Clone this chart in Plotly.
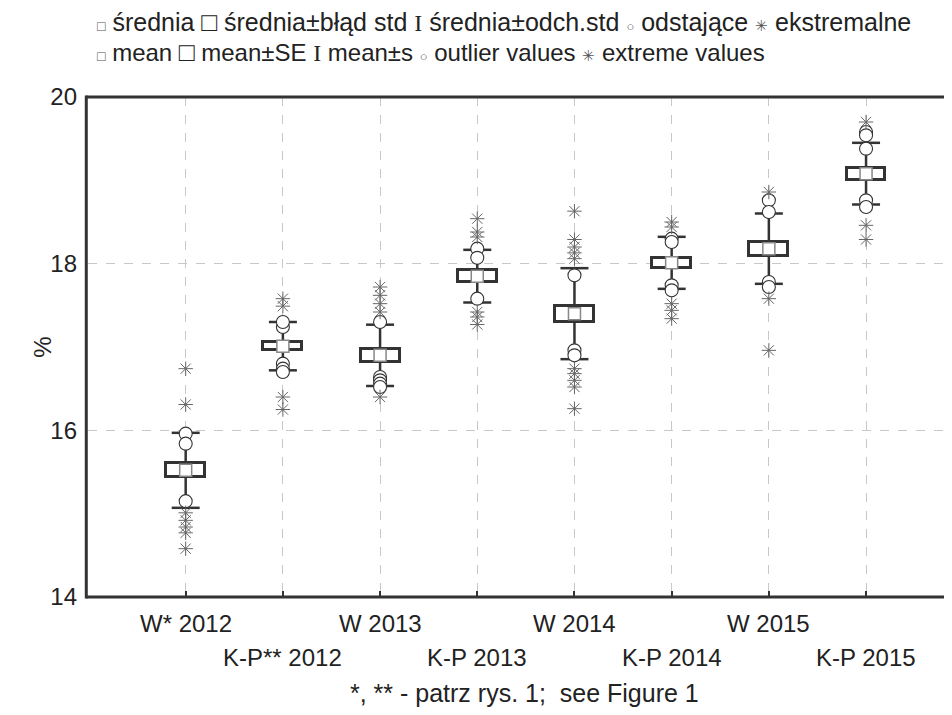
import plotly.graph_objects as go

categories = ["W* 2012", "K-P** 2012", "W 2013", "K-P 2013", "W 2014", "K-P 2014", "W 2015", "K-P 2015"]
means = [15.52, 17.01, 16.90, 17.85, 17.40, 18.01, 18.18, 19.08]
se = [0.085, 0.046, 0.074, 0.074, 0.096, 0.056, 0.084, 0.070]
sd = [0.45, 0.29, 0.368, 0.316, 0.546, 0.312, 0.422, 0.37]
outliers = [
    [15.96, 15.84, 15.15],
    [17.24, 17.30, 16.80, 16.74, 16.70],
    [17.30, 16.64, 16.60, 16.56, 16.52],
    [18.18, 18.07, 17.58],
    [17.86, 16.96, 16.90],
    [18.30, 18.26, 17.74, 17.68],
    [18.76, 18.62, 17.78, 17.72],
    [19.58, 19.54, 19.38, 18.76, 18.68],
]
extremes = [
    [16.74, 16.31, 15.01, 14.92, 14.84, 14.77, 14.58],
    [17.58, 17.49, 16.40, 16.25],
    [17.72, 17.62, 17.52, 17.42, 16.40],
    [18.54, 18.38, 18.32, 17.42, 17.36, 17.27],
    [18.63, 18.29, 18.20, 18.13, 18.06, 16.74, 16.68, 16.60, 16.52, 16.26],
    [18.50, 18.44, 17.52, 17.44, 17.34],
    [18.86, 17.58, 16.96],
    [19.70, 18.46, 18.29],
]
y_ticks = [14, 16, 18, 20]
x_title = "*, ** - patrz rys. 1;  see Figure 1"
y_title = "%"
legend_pl = ["średnia", "średnia±błąd std", "średnia±odch.std", "odstające", "ekstremalne"]
legend_en = ["mean", "mean±SE", "mean±s", "outlier values", "extreme values"]

FONT = "Arial, Liberation Sans, sans-serif"
FS = 24
DARK = "#333333"
TXT = "#222222"
xs = list(range(len(categories)))

fig = go.Figure()

# SE boxes
fig.add_trace(go.Bar(
    x=xs, y=[2 * s for s in se], base=[m - s for m, s in zip(means, se)],
    width=0.40, marker=dict(color="white", line=dict(color=DARK, width=3)),
    showlegend=False, hoverinfo="skip"))

# whiskers
wx, wy = [], []
for i, (m, s, d) in enumerate(zip(means, se, sd)):
    wx += [i, i, None, i, i, None]
    wy += [m + s, m + d, None, m - s, m - d, None]
fig.add_trace(go.Scatter(x=wx, y=wy, mode="lines", line=dict(color=DARK, width=2.5),
                         showlegend=False, hoverinfo="skip"))

# caps
cx, cy = [], []
for i, (m, d) in enumerate(zip(means, sd)):
    cx += [i, i]
    cy += [m + d, m - d]
fig.add_trace(go.Scatter(x=cx, y=cy, mode="markers",
                         marker=dict(symbol="line-ew", size=20, color=DARK,
                                     line=dict(color=DARK, width=2.5)),
                         showlegend=False, hoverinfo="skip"))

# outliers
ox, oy = [], []
for i, vals in enumerate(outliers):
    ox += [i] * len(vals)
    oy += vals
fig.add_trace(go.Scatter(x=ox, y=oy, mode="markers",
                         marker=dict(symbol="circle", size=13, color="white",
                                     line=dict(color="#333333", width=1.1)),
                         showlegend=False))

# extremes
ex, ey = [], []
for i, vals in enumerate(extremes):
    ex += [i] * len(vals)
    ey += vals
fig.add_trace(go.Scatter(x=ex, y=ey, mode="markers",
                         marker=dict(symbol="asterisk-open", size=12, color="#666666",
                                     line=dict(color="#666666", width=1)),
                         showlegend=False))

# means
fig.add_trace(go.Scatter(x=xs, y=means, mode="markers",
                         marker=dict(symbol="square", size=12, color="white",
                                     line=dict(color="#888888", width=1.5)),
                         showlegend=False))

annotations = []
for i, c in enumerate(categories):
    annotations.append(dict(x=i, y=0, xref="x", yref="paper", text=c, showarrow=False,
                            yanchor="middle", xanchor="center",
                            yshift=-26 if i % 2 == 0 else -60,
                            font=dict(family=FONT, size=FS, color=TXT)))
annotations.append(dict(x=0.51, y=0, xref="paper", yref="paper", text=x_title, showarrow=False,
                        yanchor="middle", xanchor="center", yshift=-96,
                        font=dict(family=FONT, size=25, color=TXT)))
annotations.append(dict(x=-0.054, y=0.5, xref="paper", yref="paper", text=y_title, showarrow=False,
                        textangle=-90, xanchor="center", yanchor="middle",
                        font=dict(family=FONT, size=FS, color=TXT)))

sym_small_sq = "<span style='font-size:14px;fill:#555'>□</span>"
sym_big_sq = "<span style='font-size:26px'>□</span>"
sym_ibeam = "<span style='font-family:Liberation Serif;font-size:24px'>I</span>"
sym_circ = "<span style='font-size:13px;fill:#555'>○</span>"
sym_ast = "<span style='font-size:15px;fill:#555'>✳</span>"
syms = [sym_small_sq, sym_big_sq, sym_ibeam, sym_circ, sym_ast]

def legend_line(labels):
    return " ".join(s + " " + l for s, l in zip(syms, labels))

annotations.append(dict(x=0.008, y=1, xref="paper", yref="paper", text=legend_line(legend_pl),
                        showarrow=False, xanchor="left", yanchor="middle", yshift=75,
                        font=dict(family=FONT, size=25, color=TXT)))
annotations.append(dict(x=0.008, y=1, xref="paper", yref="paper", text=legend_line(legend_en),
                        showarrow=False, xanchor="left", yanchor="middle", yshift=45,
                        font=dict(family=FONT, size=FS, color=TXT)))

frame = [
    dict(type="line", xref="paper", yref="paper", x0=-0.002, x1=1, y0=0, y1=0,
         line=dict(color=DARK, width=3), layer="above"),
    dict(type="line", xref="paper", yref="paper", x0=-0.002, x1=1, y0=1, y1=1,
         line=dict(color=DARK, width=3), layer="above"),
    dict(type="line", xref="paper", yref="paper", x0=-0.002, x1=-0.002, y0=-0.003, y1=1.003,
         line=dict(color=DARK, width=3), layer="above"),
]

fig.update_layout(
    template="none",
    width=936, height=699,
    margin=dict(l=80, r=0, t=89, b=110),
    paper_bgcolor="white", plot_bgcolor="white",
    bargap=0,
    annotations=annotations,
    shapes=frame,
    font=dict(family=FONT, size=FS, color=TXT),
    xaxis=dict(range=[-1.005, 7.802], tickvals=xs, ticktext=["" for _ in xs],
               showline=False, mirror=False,
               ticks="inside", ticklen=6, tickwidth=2, tickcolor=DARK,
               showgrid=True, gridcolor="#c8c8c8", griddash="dash", gridwidth=1,
               zeroline=False),
    yaxis=dict(range=[14, 20], tickvals=y_ticks, ticktext=[str(t) for t in y_ticks],
               showline=False, mirror=False,
               ticks="", ticklabelstandoff=10,
               showgrid=True, gridcolor="#c8c8c8", griddash="dash", gridwidth=1,
               zeroline=False,
               tickfont=dict(family=FONT, size=FS, color=TXT)),
)

fig.write_html("out.html")
